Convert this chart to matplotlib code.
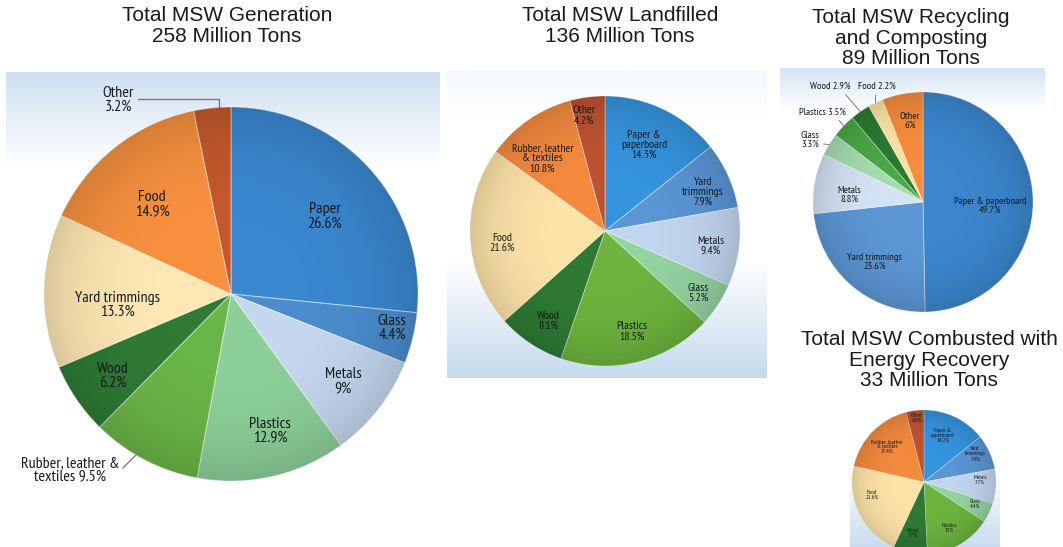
import numpy as np
import matplotlib.pyplot as plt
from matplotlib import font_manager
from matplotlib.colors import to_rgb
from matplotlib.patches import Circle

W, H = 1063, 547

# ---- Total MSW generation (258 million tons) ----
gen_templates = ["Paper\n{:g}%", "Glass\n{:g}%", "Metals\n{:g}%", "Plastics\n{:g}%",
                 "Rubber, leather &\ntextiles {:g}%", "Wood\n{:g}%", "Yard trimmings\n{:g}%",
                 "Food\n{:g}%", "Other\n{:g}%"]
gen_values = [26.6, 4.4, 9, 12.9, 9.5, 6.2, 13.3, 14.9, 3.2]
gen_colors = ["#3a87cf", "#4a8ccc", "#c4d7ef", "#8ccf98", "#6ab547",
              "#2f7a35", "#fde7b3", "#f7913f", "#c4582c"]

# ---- Landfilled (136 million tons) ----
land_templates = ["Paper &\npaperboard\n{:g}%", "Yard\ntrimmings\n{:g}%", "Metals\n{:g}%",
                  "Glass\n{:g}%", "Plastics\n{:g}%", "Wood\n{:g}%", "Food\n{:g}%",
                  "Rubber, leather\n& textiles\n{:g}%", "Other\n{:g}%"]
land_values = [14.3, 7.9, 9.4, 5.2, 18.5, 8.1, 21.6, 10.8, 4.2]
land_colors = ["#3594de", "#5a95d4", "#c2d5ef", "#93d3a0", "#6cb43e",
               "#2e7a34", "#fde3a8", "#f48a3e", "#bd5330"]

# ---- Recycling and composting (89 million tons) ----
rec_templates = ["Paper & paperboard\n{:g}%", "Yard trimmings\n{:g}%", "Metals\n{:g}%",
                 "Glass\n{:g}%", "Plastics {:g}%", "Wood {:g}%", "Food {:g}%", "Other\n{:g}%"]
rec_values = [49.7, 23.6, 8.8, 3.3, 3.5, 2.9, 2.2, 6]
rec_colors = ["#3b86cd", "#5c96d4", "#d3e2f4", "#a6dbb0", "#4aa845",
              "#2c7a32", "#fde3a2", "#f68c3c"]

# ---- Combusted with energy recovery (33 million tons) ----
comb_templates = ["Paper &\npaperboard\n{:g}%", "Yard\ntrimmings\n{:g}%", "Metals\n{:g}%",
                  "Glass\n{:g}%", "Plastics\n{:g}%", "Wood\n{:g}%", "Food\n{:g}%",
                  "Rubber, leather\n& textiles\n{:g}%", "Other\n{:.1f}%"]
comb_values = [14.2, 7.9, 7.7, 4.4, 15, 7.7, 21.6, 17.4, 4.0]
comb_colors = ["#3594de", "#5a95d4", "#c2d5ef", "#93d3a0", "#6cb43e",
               "#2e7a34", "#fde3a8", "#f48a3e", "#bd5330"]

# label placement: (radius fraction, angle nudge in degrees)
gen_spots = [(0.65, 2.4), (0.88, -1.8), (0.76, 0), (0.76, -3.2), (1.275, 15),
             (0.77, -0.6), (0.61, -6.5), (0.64, -3), (1.20, -24.4)]
land_spots = [(0.70, -1.3), (0.78, 2.6), (0.79, 1.3), (0.83, 0.6), (0.77, -0.9),
              (0.79, -1.4), (0.77, -3.7), (0.71, -6.2), (0.87, -2.7)]
rec_spots = [(0.61, 3.9), (0.70, -2.7), (0.67, -4.2), (1.17, -2.7), (1.23, -2),
             (1.35, -4), (1.13, 4), (0.75, 1.8)]
comb_spots = [(0.70, -3.6), (0.81, -4.1), (0.78, -5.4), (0.77, -1.9), (0.73, 0.4),
              (0.72, 1), (0.74, 12), (0.71, -0.5), (0.89, 1)]

# narrow humanist face for the slice labels, whichever is installed
_installed = {f.name for f in font_manager.fontManager.ttflist}
_narrow = ["Myriad Pro", "PT Sans Narrow", "Fira Sans Condensed", "Roboto Condensed",
           "Encode Sans Condensed", "Liberation Sans Narrow", "Arial Narrow",
           "Source Sans 3", "Source Sans Pro", "PT Sans"]
LABEL_FONT = [n for n in _narrow if n in _installed][:1] + ["DejaVu Sans"]
TITLE_FONT = ["Liberation Sans", "DejaVu Sans"]


def grad_box(ax, x0, y0, x1, y1, stops):
    """Vertical gradient rectangle; stops are (fraction, color) pairs, top to bottom."""
    n = 256
    t = np.linspace(0, 1, n)
    fr = [s[0] for s in stops]
    cols = np.array([to_rgb(s[1]) for s in stops])
    rgb = np.stack([np.interp(t, fr, cols[:, k]) for k in range(3)], axis=1)
    img = np.repeat(rgb[:, None, :], 2, axis=1)
    ax.imshow(img, extent=(x0, x1, y1, y0), origin="upper", aspect="auto",
              interpolation="bilinear", zorder=0)


def draw_pie(fig, cx, cy, r, values, colors, templates, spots, fontsize,
             leaders=None, lw=0.6):
    leaders = leaders or {}
    ax = fig.add_axes([(cx - r) / W, (H - cy - r) / H, 2 * r / W, 2 * r / H])
    ax.pie(values, colors=colors, startangle=90, counterclock=False,
           wedgeprops=dict(edgecolor=(1, 1, 1, 0.45), linewidth=lw))
    ax.set_xlim(-1, 1)
    ax.set_ylim(-1, 1)
    ax.set_aspect("equal")
    ax.axis("off")

    # soft rim shading over the wedges
    g = np.linspace(-1, 1, 300)
    xx, yy = np.meshgrid(g, g)
    rho = np.clip(np.hypot(xx, yy), 0, 1)
    shade = np.zeros((300, 300, 4))
    shade[..., 3] = 0.14 * rho ** 4
    im = ax.imshow(shade, extent=(-1, 1, -1, 1), origin="lower", zorder=2)
    im.set_clip_path(Circle((0, 0), 1, transform=ax.transData))

    total = float(sum(values))
    start = 0.0
    for i, (v, tpl, (dist, nudge)) in enumerate(zip(values, templates, spots)):
        mid = (start + v / 2) / total * 360
        start += v
        th = np.radians(mid + nudge)
        pos = (dist * np.sin(th), dist * np.cos(th))
        txt = tpl.format(v)
        style = dict(ha="center", va="center", fontsize=fontsize, family=LABEL_FONT,
                     color="#15191d", linespacing=1.0, zorder=3)
        if i in leaders:
            relpos, conn, lcol, llw, aim = leaders[i]
            tip = np.radians(mid + aim)
            edge = (np.sin(tip), np.cos(tip))
            ax.annotate(txt, xy=edge, xytext=pos, annotation_clip=False,
                        arrowprops=dict(arrowstyle="-", color=lcol, lw=llw,
                                        relpos=relpos, connectionstyle=conn,
                                        shrinkA=1, shrinkB=0),
                        **style)
        else:
            ax.text(pos[0], pos[1], txt, **style)
    return ax


fig = plt.figure(figsize=(W / 100, H / 100), dpi=100)
bg = fig.add_axes([0, 0, 1, 1])
bg.set_xlim(0, W)
bg.set_ylim(H, 0)
bg.axis("off")

grad_box(bg, 6, 72, 440, 545, [(0, "#cfe0f2"), (0.2, "#ffffff"), (1, "#ffffff")])
grad_box(bg, 447, 70, 767, 378, [(0, "#f4f8fc"), (0.15, "#ffffff"), (0.62, "#ffffff"), (1, "#c6daee")])
grad_box(bg, 780, 68, 1045, 315, [(0, "#d5e4f3"), (0.17, "#ffffff"), (1, "#ffffff")])
grad_box(bg, 850, 405, 1000, 547, [(0, "#ffffff"), (0.45, "#ffffff"), (1, "#c9dcef")])

title_style = dict(ha="center", va="center", fontsize=15, family=TITLE_FONT,
                   color="#1a1a1a", linespacing=1.12)
fig.text(227 / W, 1 - 26 / H, "Total MSW Generation\n258 Million Tons", **title_style)
fig.text(620 / W, 1 - 26 / H, "Total MSW Landfilled\n136 Million Tons", **title_style)
fig.text(911 / W, 1 - 38 / H, "Total MSW Recycling\nand Composting\n89 Million Tons", **title_style)
fig.text(929 / W, 1 - 360 / H, "Total MSW Combusted with\nEnergy Recovery\n33 Million Tons", **title_style)

draw_pie(fig, 231, 294, 187, gen_values, gen_colors, gen_templates, gen_spots, 11.5,
         leaders={4: ((1.0, 0.42), "arc3", "#666666", 0.8, 3),
                  8: ((1.0, 0.55), "angle,angleA=0,angleB=90,rad=0", "#777777", 1.0, 2)},
         lw=0.8)
draw_pie(fig, 605, 231, 135, land_values, land_colors, land_templates, land_spots, 8.5)
draw_pie(fig, 923, 202, 110, rec_values, rec_colors, rec_templates, rec_spots, 7.5,
         leaders={3: ((1.0, 0.3), "arc3", "#666666", 0.6, 0),
                  4: ((0.8, 0.0), "arc3", "#666666", 0.6, 0),
                  5: ((0.8, 0.0), "arc3", "#666666", 0.6, 0),
                  6: ((0.45, 0.0), "arc3", "#666666", 0.6, 0)})
draw_pie(fig, 924, 482, 72, comb_values, comb_colors, comb_templates, comb_spots, 4.3, lw=0.4)

fig.savefig("out.png", dpi=100)
